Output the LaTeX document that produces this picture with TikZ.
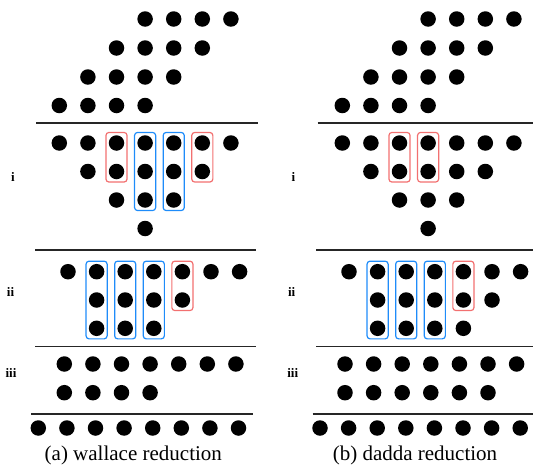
\documentclass[tikz,border=0pt]{standalone}
\usepackage{fontspec}
\setmainfont{Liberation Serif}
\usetikzlibrary{fit}
\definecolor{boxred}{RGB}{242,112,112}
\definecolor{boxblue}{RGB}{30,140,250}
\newcommand\dotrow[5]{%
  \foreach \k in {#4,...,#5} {\node[dotnode] (#1-\k) at ({#2+28.6*\k},#3) {};}}
\begin{document}
\begin{tikzpicture}[x=1pt,y=-1pt,
  dotnode/.style={circle, fill=black, inner sep=0pt, minimum size=15.5pt},
  redbox/.style={draw=boxred, rounded corners=3pt, line width=1.2pt, inner sep=2.6pt},
  bluebox/.style={draw=boxblue, rounded corners=3pt, line width=1.2pt, inner sep=2.6pt},
  sep/.style={draw=black!85, line width=1.1pt},
  stagelabel/.style={font=\fontsize{13}{14}\selectfont\bfseries, inner sep=0pt},
  caption/.style={font=\fontsize{21}{23}\selectfont, anchor=base, inner sep=0pt}]
\useasboundingbox (0,0) rectangle (533,466);

% ---------------- left: wallace ----------------
\dotrow{LTa}{59.3}{19}{3}{6}
\dotrow{LTb}{59.3}{48}{2}{5}
\dotrow{LTc}{59.3}{77}{1}{4}
\dotrow{LTd}{59.3}{105.5}{0}{3}
\draw[sep] (36,123) -- (258,123);
\dotrow{Lia}{59.3}{143}{0}{6}
\dotrow{Lib}{59.3}{171.5}{1}{5}
\dotrow{Lic}{59.3}{200}{2}{4}
\dotrow{Lid}{59.3}{228.5}{3}{3}
\node[redbox, fit=(Lia-2)(Lib-2)] (Lr1) {};
\node[bluebox, fit=(Lia-3)(Lic-3)] (Lb1) {};
\node[bluebox, fit=(Lia-4)(Lic-4)] (Lb2) {};
\node[redbox, fit=(Lia-5)(Lib-5)] (Lr2) {};
\node[stagelabel] (Li) at (13,177) {i};
\draw[sep] (35,250) -- (256,250);
\dotrow{Liia}{68}{271.7}{0}{6}
\dotrow{Liib}{68}{300}{1}{4}
\dotrow{Liic}{68}{328.3}{1}{3}
\node[bluebox, fit=(Liia-1)(Liic-1)] (Lb3) {};
\node[bluebox, fit=(Liia-2)(Liic-2)] (Lb4) {};
\node[bluebox, fit=(Liia-3)(Liic-3)] (Lb5) {};
\node[redbox, fit=(Liia-4)(Liib-4)] (Lr3) {};
\node[stagelabel] (Lii) at (10.5,292) {ii};
\draw[sep] (35,346.7) -- (256,346.7);
\dotrow{Liiia}{64.3}{364}{0}{6}
\dotrow{Liiib}{64.3}{392.7}{0}{3}
\node[stagelabel] (Liii) at (11,373) {iii};
\draw[sep] (31,414) -- (253,414);
\dotrow{Lf}{38.3}{428}{0}{7}
\node[caption] (Lcap) at (133.3,460) {(a) wallace reduction};

% ---------------- right: dadda ----------------
\dotrow{RTa}{342.3}{19}{3}{6}
\dotrow{RTb}{342.3}{48}{2}{5}
\dotrow{RTc}{342.3}{77}{1}{4}
\dotrow{RTd}{342.3}{105.5}{0}{3}
\draw[sep] (317.7,123) -- (533,123);
\dotrow{Ria}{342.3}{143}{0}{6}
\dotrow{Rib}{342.3}{171.5}{1}{5}
\dotrow{Ric}{342.3}{200}{2}{4}
\dotrow{Rid}{342.3}{228.5}{3}{3}
\node[redbox, fit=(Ria-2)(Rib-2)] (Rr1) {};
\node[redbox, fit=(Ria-3)(Rib-3)] (Rr2) {};
\node[stagelabel] (Ri) at (293.5,177) {i};
\draw[sep] (316,250) -- (533,250);
\dotrow{Riia}{349}{271.7}{0}{6}
\dotrow{Riib}{349}{300}{1}{5}
\dotrow{Riic}{349}{328.3}{1}{4}
\node[bluebox, fit=(Riia-1)(Riic-1)] (Rb1) {};
\node[bluebox, fit=(Riia-2)(Riic-2)] (Rb2) {};
\node[bluebox, fit=(Riia-3)(Riic-3)] (Rb3) {};
\node[redbox, fit=(Riia-4)(Riib-4)] (Rr3) {};
\node[stagelabel] (Rii) at (291.7,292) {ii};
\draw[sep] (316,346.7) -- (533,346.7);
\dotrow{Riiia}{345}{364}{0}{6}
\dotrow{Riiib}{345}{392.7}{0}{5}
\node[stagelabel] (Riii) at (292.7,373) {iii};
\draw[sep] (312.7,414) -- (533,414);
\dotrow{Rf}{320}{428}{0}{7}
\node[caption] (Rcap) at (415,460) {(b) dadda reduction};
\end{tikzpicture}
\end{document}
